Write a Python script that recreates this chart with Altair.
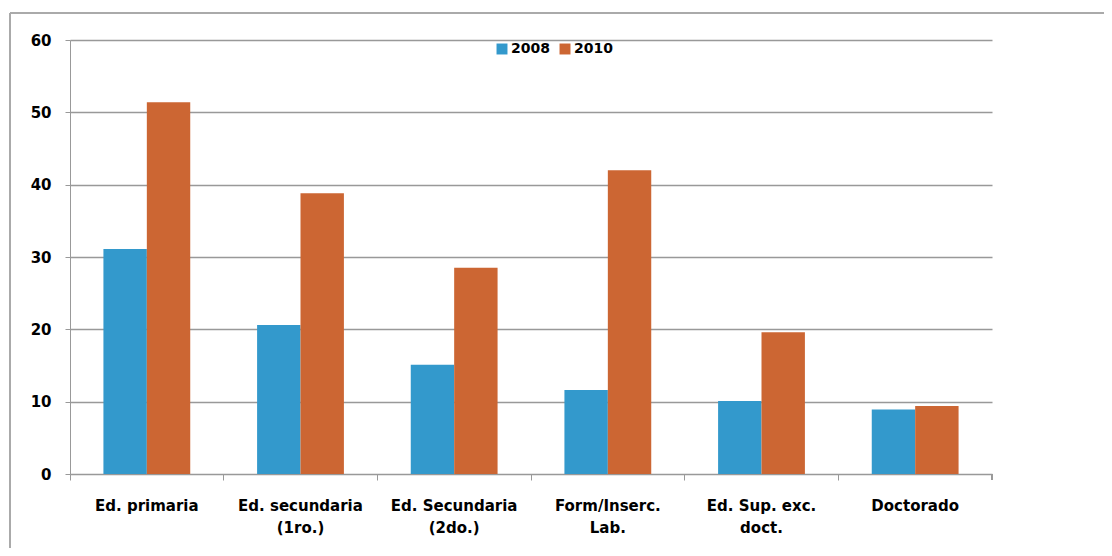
import altair as alt
import pandas as pd

categories = ["Ed. primaria", "Ed. secundaria|(1ro.)", "Ed. Secundaria|(2do.)",
              "Form/Inserc.|Lab.", "Ed. Sup. exc.|doct.", "Doctorado"]
v2008 = [31.1, 20.6, 15.1, 11.6, 10.1, 8.9]
v2010 = [51.4, 38.8, 28.5, 42.0, 19.6, 9.4]
years = ["2008", "2010"]
colors = ["#3399CC", "#CC6633"]

rows = []
for c, a, b in zip(categories, v2008, v2010):
    rows.append({"cat": c, "year": "2008", "value": a})
    rows.append({"cat": c, "year": "2010", "value": b})
df = pd.DataFrame(rows)

FONT = "DejaVu Sans"

bars = alt.Chart(df).mark_bar().encode(
    x=alt.X("cat:N", sort=categories, title=None,
            scale=alt.Scale(paddingInner=0, paddingOuter=0),
            axis=alt.Axis(labelAngle=0, labelExpr="split(datum.value, '|')",
                          bandPosition=0, tickSize=6, labelPadding=18,
                          labelFont=FONT, labelFontWeight="bold", labelFontSize=15,
                          labelColor="#000000", labelLineHeight=22,
                          domainColor="#999999", tickColor="#999999",
                          grid=False)),
    xOffset=alt.XOffset("year:N", sort=years,
                        scale=alt.Scale(paddingOuter=0.77, paddingInner=0)),
    y=alt.Y("value:Q", title=None,
            scale=alt.Scale(domain=[0, 60], nice=False),
            axis=alt.Axis(values=[0, 10, 20, 30, 40, 50, 60], tickSize=5,
                          labelPadding=14, labelFont=FONT, labelFontWeight="bold",
                          labelFontSize=15, labelColor="#000000",
                          domainColor="#999999", tickColor="#999999",
                          gridColor="#999999", gridWidth=1.3)),
    color=alt.Color("year:N", sort=years,
                    scale=alt.Scale(domain=years, range=colors),
                    legend=alt.Legend(title=None, orient="none", legendX=425, legendY=2,
                                      direction="horizontal", symbolType="square",
                                      symbolSize=120, symbolStrokeWidth=0,
                                      labelFont=FONT, labelFontWeight="bold",
                                      labelFontSize=14, labelColor="#000000",
                                      columnPadding=8, labelOffset=2)),
)

end_tick = alt.Chart(df).mark_rule(color="#999999", strokeWidth=1, clip=False).encode(
    x=alt.value(922), y=alt.value(434), y2=alt.value(440))
border_top = alt.Chart(df).mark_rule(color="#aaaaaa", strokeWidth=1.5, clip=False).encode(
    x=alt.value(-60), x2=alt.value(1100), y=alt.value(-27))
border_left = alt.Chart(df).mark_rule(color="#aaaaaa", strokeWidth=1.5, clip=False).encode(
    x=alt.value(-60), y=alt.value(-27), y2=alt.value(520))

chart = alt.layer(bars, end_tick, border_top, border_left).properties(
    width=922, height=434,
    background="#ffffff",
    autosize=alt.AutoSizeParams(type="none"),
    padding={"left": 62, "top": 32, "right": 112, "bottom": 74},
).configure_view(stroke="transparent", strokeWidth=0)

chart.save("out.html", embed_options={"renderer": "svg", "actions": False})
